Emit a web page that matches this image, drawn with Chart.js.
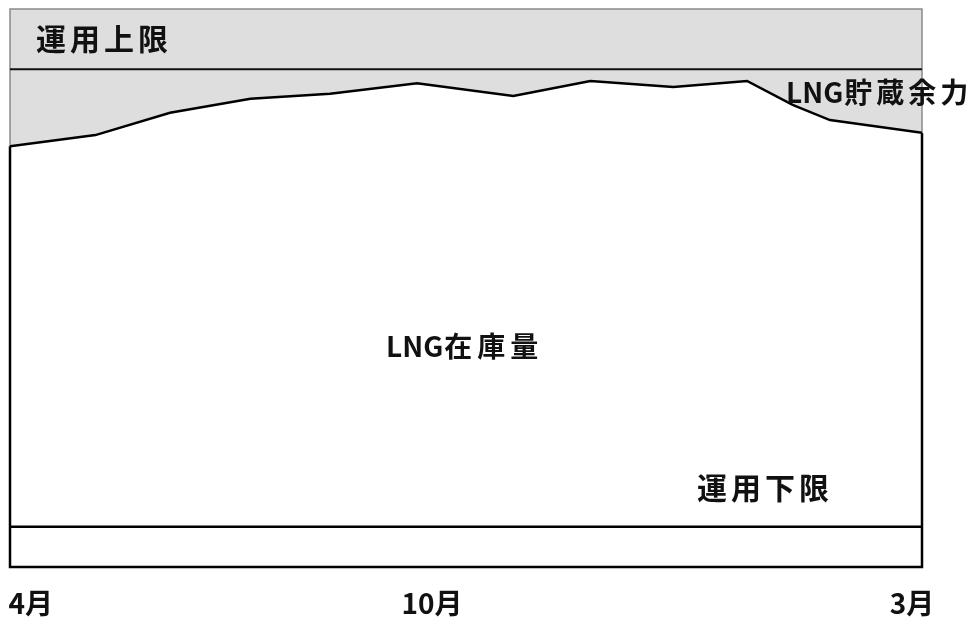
<!DOCTYPE html>
<html>
<head>
<meta charset="utf-8">
<script src="https://cdn.jsdelivr.net/npm/chart.js@4/dist/chart.umd.min.js"></script>
<style>
  html, body { margin: 0; padding: 0; background: #fff; }
  #wrap { width: 980px; height: 619px; }
</style>
</head>
<body>
<div id="wrap"><canvas id="lngChart" width="980" height="619"></canvas></div>
<script>
// x in months from April (0) to March (11)
const monthPos = [0, 1.03, 1.93, 2.9, 3.86, 4.91, 6.07, 7.0, 8.0, 8.89, 9.44, 9.89, 11];
const inventory = [75.4, 77.4, 81.4, 83.9, 84.8, 86.7, 84.4, 87.1, 86.0, 87.1, 82.8, 80.1, 77.8];
const upperLimit = 89.2;
const lowerLimit = 7.2;

const tickValues = [0.25, 5.09, 10.88];
const tickLabels = ['4月', '10月', '3月'];

const FONT = '"Noto Sans CJK JP", "Noto Sans", sans-serif';
const GRAY = '#dedede';

// gray background + frame, black outline under the stock line, text labels
const boxPlugin = {
  id: 'box',
  beforeDatasetsDraw(chart) {
    const { ctx, chartArea: a } = chart;
    ctx.save();
    ctx.fillStyle = GRAY;
    ctx.fillRect(a.left, a.top, a.right - a.left, a.bottom - a.top);
    ctx.strokeStyle = '#8a8a8a';
    ctx.lineWidth = 1.5;
    ctx.strokeRect(a.left, a.top, a.right - a.left, a.bottom - a.top);
    ctx.restore();
  },
  afterDatasetsDraw(chart) {
    const { ctx, chartArea: a } = chart;
    const pts = chart.getDatasetMeta(0).data;
    const xs = chart.scales.x;
    ctx.save();
    ctx.strokeStyle = '#000';
    ctx.lineWidth = 2.5;
    ctx.beginPath();
    ctx.moveTo(a.left, pts[0].y);
    ctx.lineTo(a.left, a.bottom);
    ctx.lineTo(a.right, a.bottom);
    ctx.lineTo(a.right, pts[pts.length - 1].y);
    ctx.stroke();

    ctx.fillStyle = '#111';
    ctx.textBaseline = 'middle';
    ctx.textAlign = 'left';
    ctx.font = 'bold 30px ' + FONT;
    ctx.letterSpacing = '4px';
    ctx.fillText('運用上限', a.left + 26, a.top + 30);
    ctx.fillText('運用下限', 697, 488);
    ctx.font = 'bold 28px ' + FONT;
    ctx.letterSpacing = '0px';
    ctx.fillText('LNG', 386, 346);
    let w = ctx.measureText('LNG').width;
    ctx.letterSpacing = '5px';
    ctx.fillText('在庫量', 386 + w + 1, 346);
    ctx.letterSpacing = '0px';
    ctx.fillText('LNG', 786, 92);
    w = ctx.measureText('LNG').width;
    ctx.letterSpacing = '4px';
    ctx.fillText('貯蔵余力', 786 + w + 1, 92);

    // month labels under the box
    ctx.font = 'bold 28px ' + FONT;
    ctx.letterSpacing = '0px';
    ctx.textAlign = 'center';
    tickValues.forEach((v, i) => {
      ctx.fillText(tickLabels[i], xs.getPixelForValue(v), a.bottom + 36);
    });
    ctx.restore();
  }
};

const ctx = document.getElementById('lngChart').getContext('2d');
new Chart(ctx, {
  type: 'line',
  data: {
    datasets: [
      {
        label: 'LNG在庫量',
        data: monthPos.map((x, i) => ({ x, y: inventory[i] })),
        borderColor: '#000',
        borderWidth: 2.5,
        backgroundColor: '#fff',
        fill: 'origin',
        pointRadius: 0,
        tension: 0,
        order: 2
      },
      {
        label: '運用上限',
        data: [{ x: 0, y: upperLimit }, { x: 11, y: upperLimit }],
        borderColor: '#111',
        borderWidth: 2,
        pointRadius: 0,
        fill: false,
        order: 1
      },
      {
        label: '運用下限',
        data: [{ x: 0, y: lowerLimit }, { x: 11, y: lowerLimit }],
        borderColor: '#000',
        borderWidth: 2.5,
        pointRadius: 0,
        fill: false,
        order: 0
      }
    ]
  },
  options: {
    responsive: false,
    animation: false,
    layout: { padding: { left: 10, right: 58, top: 9, bottom: 52 } },
    plugins: {
      legend: { display: false },
      tooltip: { enabled: false }
    },
    scales: {
      x: {
        type: 'linear',
        display: false,
        min: 0,
        max: 11
      },
      y: {
        display: false,
        min: 0,
        max: 100
      }
    }
  },
  plugins: [boxPlugin]
});
</script>
</body>
</html>
